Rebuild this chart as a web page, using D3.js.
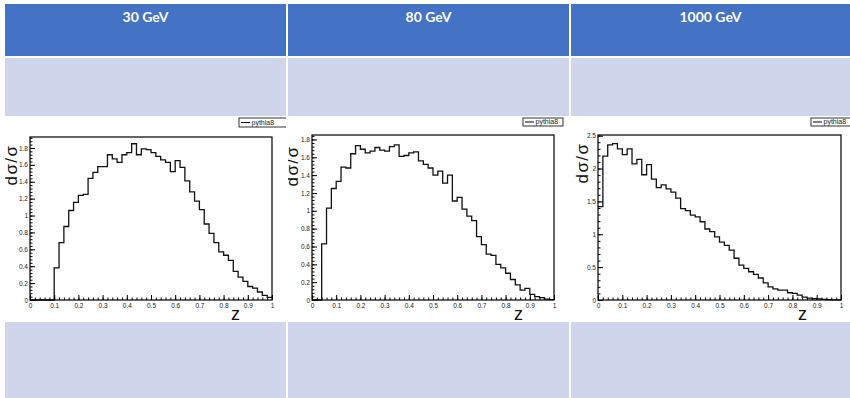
<!DOCTYPE html>
<html>
<head>
<meta charset="utf-8">
<script src="https://cdn.jsdelivr.net/npm/d3@7"></script>
<style>
  html, body { margin: 0; padding: 0; background: #ffffff; }
  svg { display: block; }
</style>
</head>
<body>
<script>
// Fragmentation function dσ/σ vs z, Pythia 8, at three centre-of-mass energies

const energies = ["30 GeV", "80 GeV", "1000 GeV"];

// lower edge of each z bin (bin width 0.02)
const zLow = [0.00, 0.02, 0.04, 0.06, 0.08, 0.10, 0.12, 0.14, 0.16, 0.18,
              0.20, 0.22, 0.24, 0.26, 0.28, 0.30, 0.32, 0.34, 0.36, 0.38,
              0.40, 0.42, 0.44, 0.46, 0.48, 0.50, 0.52, 0.54, 0.56, 0.58,
              0.60, 0.62, 0.64, 0.66, 0.68, 0.70, 0.72, 0.74, 0.76, 0.78,
              0.80, 0.82, 0.84, 0.86, 0.88, 0.90, 0.92, 0.94, 0.96, 0.98];
const zHigh = 1.0;

const dsig30 = [0, 0, 0, 0, 0, 0.38, 0.68, 0.87, 1.06, 1.155,
                1.24, 1.25, 1.44, 1.51, 1.58, 1.58, 1.72, 1.67, 1.63, 1.72,
                1.745, 1.85, 1.72, 1.79, 1.78, 1.745, 1.70, 1.66, 1.63, 1.52,
                1.65, 1.57, 1.41, 1.28, 1.17, 1.07, 0.90, 0.79, 0.68, 0.57,
                0.53, 0.47, 0.34, 0.27, 0.22, 0.16, 0.14, 0.095, 0.055, 0.03];

const dsig80 = [0, 0, 0.63, 1.03, 1.25, 1.33, 1.49, 1.48, 1.64, 1.73,
                1.69, 1.65, 1.67, 1.71, 1.68, 1.67, 1.72, 1.74, 1.61, 1.62,
                1.65, 1.66, 1.56, 1.52, 1.48, 1.40, 1.445, 1.31, 1.40, 1.11,
                1.15, 1.02, 0.94, 0.89, 0.71, 0.62, 0.515, 0.50, 0.40, 0.36,
                0.30, 0.23, 0.17, 0.11, 0.13, 0.063, 0.037, 0.026, 0.01, 0.004];

const dsig1000 = [1.42, 2.19, 2.36, 2.38, 2.30, 2.21, 2.30, 2.07, 2.14, 1.905,
                  2.06, 1.84, 1.71, 1.75, 1.69, 1.64, 1.55, 1.39, 1.36, 1.29,
                  1.265, 1.19, 1.08, 1.04, 0.96, 0.88, 0.83, 0.76, 0.635, 0.53,
                  0.48, 0.43, 0.39, 0.335, 0.26, 0.20, 0.17, 0.15, 0.15, 0.11,
                  0.10, 0.075, 0.045, 0.03, 0.02, 0.015, 0.01, 0.005, 0.003, 0.001];

const xTickValues = [0, 0.1, 0.2, 0.3, 0.4, 0.5, 0.6, 0.7, 0.8, 0.9, 1];
const xTickLabels = ["0", "0.1", "0.2", "0.3", "0.4", "0.5", "0.6", "0.7", "0.8", "0.9", "1"];

const yTickValuesLow = [0, 0.2, 0.4, 0.6, 0.8, 1, 1.2, 1.4, 1.6, 1.8];
const yTickLabelsLow = ["0", "0.2", "0.4", "0.6", "0.8", "1", "1.2", "1.4", "1.6", "1.8"];
const yTickValuesHigh = [0, 0.5, 1, 1.5, 2, 2.5];
const yTickLabelsHigh = ["0", "0.5", "1", "1.5", "2", "2.5"];

const yMax = [1.93, 1.85, 2.51];
const legendLabel = "pythia8";
const yTitle = "dσ/σ";
const xTitle = "z";

// ---- page layout ----
const W = 850, H = 398;
const columns = [{x0: 5, x1: 286}, {x0: 288, x1: 569}, {x0: 571, x1: 850}];
const rows = {head: [4, 56], band1: [58, 116], plot: [117, 320], band2: [322, 398]};

const panels = [
  {series: dsig30,   ymax: yMax[0], yt: yTickValuesLow,  yl: yTickLabelsLow,  minorStep: 0.04,
   frame: {l: 30, r: 272, t: 137, b: 300}, yTitleX: 17, yTitleY: 165, zX: 240,
   legend: {x: 239, y: 118, w: 52, h: 9}},
  {series: dsig80,   ymax: yMax[1], yt: yTickValuesLow,  yl: yTickLabelsLow,  minorStep: 0.04,
   frame: {l: 312, r: 554, t: 135, b: 300}, yTitleX: 298, yTitleY: 166, zX: 523,
   legend: {x: 523, y: 118, w: 40, h: 8}},
  {series: dsig1000, ymax: yMax[2], yt: yTickValuesHigh, yl: yTickLabelsHigh, minorStep: 0.1,
   frame: {l: 598, r: 841, t: 135, b: 300}, yTitleX: 588, yTitleY: 163, zX: 807,
   legend: {x: 811, y: 118, w: 48, h: 8}}
];

const svg = d3.select("body").append("svg")
  .attr("width", W).attr("height", H)
  .style("background", "#ffffff");

const defs = svg.append("defs");

columns.forEach((c, i) => {
  // header cell
  svg.append("rect")
    .attr("x", c.x0).attr("y", rows.head[0])
    .attr("width", c.x1 - c.x0).attr("height", rows.head[1] - rows.head[0])
    .attr("fill", "#4472c4");
  svg.append("text")
    .attr("x", (c.x0 + c.x1) / 2).attr("y", 22)
    .attr("text-anchor", "middle")
    .attr("font-family", "Lato, 'Open Sans', sans-serif")
    .attr("font-weight", 700)
    .attr("font-size", 14)
    .attr("fill", "#ffffff")
    .text(energies[i]);
  // light bands
  [rows.band1, rows.band2].forEach(r => {
    svg.append("rect")
      .attr("x", c.x0).attr("y", r[0])
      .attr("width", c.x1 - c.x0).attr("height", r[1] - r[0])
      .attr("fill", "#cfd5ea");
  });
  defs.append("clipPath").attr("id", "cell" + i)
    .append("rect")
    .attr("x", c.x0).attr("y", rows.plot[0])
    .attr("width", c.x1 - c.x0).attr("height", rows.plot[1] - rows.plot[0]);
});

const tickFont = "'Liberation Sans', Arial, Helvetica, sans-serif";

panels.forEach((p, i) => {
  const g = svg.append("g").attr("clip-path", `url(#cell${i})`);
  const f = p.frame;

  const x = d3.scaleLinear().domain([0, 1]).range([f.l, f.r]);
  const y = d3.scaleLinear().domain([0, p.ymax]).range([f.b, f.t]);

  // histogram outline
  const pts = zLow.map((z, k) => [z, p.series[k]]);
  pts.push([zHigh, p.series[p.series.length - 1]]);
  const line = d3.line()
    .x(d => x(d[0])).y(d => y(d[1]))
    .curve(d3.curveStepAfter);
  g.append("path")
    .attr("d", line(pts))
    .attr("fill", "none")
    .attr("stroke", "#111")
    .attr("stroke-width", 1.3);

  // minor ticks
  const xMinor = d3.range(0, 1.0001, 0.02);
  g.append("g")
    .attr("transform", `translate(0,${f.b})`)
    .call(d3.axisBottom(x).tickValues(xMinor).tickSize(-2.5).tickFormat(""))
    .call(a => a.select(".domain").remove())
    .call(a => a.selectAll("line").attr("stroke", "#000"));
  const yMinor = d3.range(0, p.ymax, p.minorStep);
  g.append("g")
    .attr("transform", `translate(${f.l},0)`)
    .call(d3.axisLeft(y).tickValues(yMinor).tickSize(-2.5).tickFormat(""))
    .call(a => a.select(".domain").remove())
    .call(a => a.selectAll("line").attr("stroke", "#000"));

  // major ticks + labels
  g.append("g")
    .attr("transform", `translate(0,${f.b})`)
    .call(d3.axisBottom(x).tickValues(xTickValues).tickSize(-5).tickPadding(3)
      .tickFormat((d, k) => xTickLabels[k]))
    .call(a => a.select(".domain").remove())
    .call(a => a.selectAll("line").attr("stroke", "#000"))
    .call(a => a.selectAll("text").attr("font-family", tickFont).attr("font-size", 6.5).attr("fill", "#222"));
  g.append("g")
    .attr("transform", `translate(${f.l},0)`)
    .call(d3.axisLeft(y).tickValues(p.yt).tickSize(-5).tickPadding(2)
      .tickFormat((d, k) => p.yl[k]))
    .call(a => a.select(".domain").remove())
    .call(a => a.selectAll("line").attr("stroke", "#000"))
    .call(a => a.selectAll("text").attr("font-family", tickFont).attr("font-size", 6.5).attr("fill", "#222"));

  // frame
  g.append("rect")
    .attr("x", f.l).attr("y", f.t)
    .attr("width", f.r - f.l).attr("height", f.b - f.t)
    .attr("fill", "none").attr("stroke", "#000").attr("stroke-width", 1.2);

  // axis titles
  g.append("text")
    .attr("transform", `translate(${p.yTitleX},${p.yTitleY}) rotate(-90)`)
    .attr("text-anchor", "middle")
    .attr("font-family", tickFont)
    .attr("font-size", 17)
    .attr("letter-spacing", 1.5)
    .attr("fill", "#111")
    .text(yTitle);
  g.append("text")
    .attr("x", p.zX).attr("y", 320)
    .attr("text-anchor", "end")
    .attr("font-family", tickFont)
    .attr("font-size", 18)
    .attr("fill", "#111")
    .text(xTitle);

  // legend
  const L = p.legend;
  g.append("rect")
    .attr("x", L.x).attr("y", L.y).attr("width", L.w).attr("height", L.h)
    .attr("fill", "#fff").attr("stroke", "#000").attr("stroke-width", 0.8);
  g.append("line")
    .attr("x1", L.x + 2).attr("x2", L.x + 11)
    .attr("y1", L.y + L.h / 2).attr("y2", L.y + L.h / 2)
    .attr("stroke", "#000").attr("stroke-width", 1);
  g.append("text")
    .attr("x", L.x + 12.5).attr("y", L.y + L.h - 2)
    .attr("font-family", tickFont)
    .attr("font-size", 7)
    .attr("fill", "#222")
    .text(legendLabel);
});
</script>
</body>
</html>
